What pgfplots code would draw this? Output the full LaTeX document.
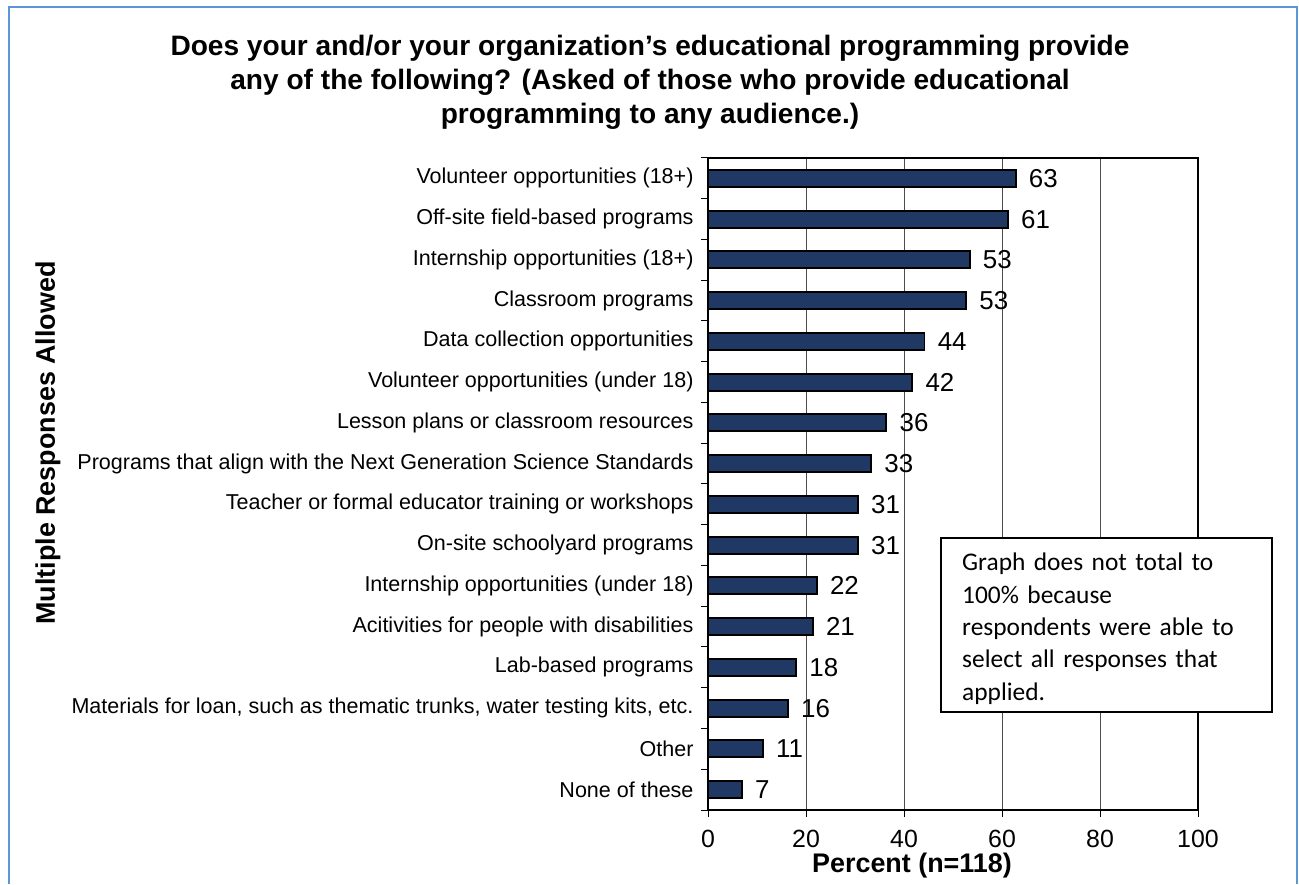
\documentclass[border=0pt]{standalone}
\usepackage{fontspec}
\setmainfont{Liberation Sans}
\newfontfamily\carlito{Carlito}
\usepackage{pgfplots}
\usepackage{pgfplotstable}
\pgfplotsset{compat=1.18}

\definecolor{barblue}{RGB}{31,56,100}
\definecolor{frameblue}{RGB}{91,150,213}

% values, bottom row first
\pgfplotstableread{
pos val lab
0 6.9 7
1 11.2 11
2 16.3 16
3 18.0 18
4 21.4 21
5 22.2 22
6 30.6 31
7 30.6 31
8 33.3 33
9 36.4 36
10 41.7 42
11 44.2 44
12 52.7 53
13 53.4 53
14 61.2 61
15 62.8 63
}\datatable

\begin{document}
\begin{tikzpicture}[x=1bp,y=1bp]
\path[use as bounding box] (0,0) rectangle (1299,884);
\draw[frameblue, line width=2.5bp] (9,0) -- (9,877) -- (1297,877) -- (1297,0);

\node[align=center, font=\bfseries\fontsize{28.2}{34}\selectfont] at (650,802)
  {Does your and/or your organization’s educational programming provide\\
   any of the following? (Asked of those who provide educational\\
   programming to any audience.)};

\begin{axis}[
  at={(708bp,74bp)}, anchor=south west,
  scale only axis, width=490bp, height=652bp,
  xbar, bar width=17bp,
  xmin=0, xmax=100, ymin=-0.5, ymax=15.5,
  xtick={0,20,...,100},
  ytick={0,...,15},
  yticklabels={None of these, Other,
    {Materials for loan, such as thematic trunks, water testing kits, etc.},
    Lab-based programs, Acitivities for people with disabilities,
    Internship opportunities (under 18), On-site schoolyard programs,
    Teacher or formal educator training or workshops,
    Programs that align with the Next Generation Science Standards,
    Lesson plans or classroom resources, Volunteer opportunities (under 18),
    Data collection opportunities, Classroom programs,
    Internship opportunities (18+), Off-site field-based programs,
    Volunteer opportunities (18+)},
  major tick length=0bp,
  minor tick length=7bp,
  minor xtick={0,20,...,100},
  minor ytick={-0.5,0.5,...,15.5},
  tick align=outside, tick pos=left,
  tick style={black, line width=1bp},
  xmajorgrids,
  major grid style={black!70, line width=1bp},
  axis line style={black, line width=1.8bp},
  /pgf/number format/assume math mode=true,
  yticklabel style={font=\fontsize{21.6}{26}\selectfont, xshift=-11bp},
  xticklabel style={font=\fontsize{25}{30}\selectfont, yshift=-17bp},
  nodes near coords,
  point meta=explicit symbolic,
  nodes near coords style={anchor=west, xshift=9bp, text=black,
    font=\fontsize{26}{30}\selectfont},
]
\addplot[fill=barblue, draw=black, line width=1.8bp]
  table[x=val, y=pos, meta=lab] {\datatable};
\end{axis}

\node[rotate=90, font=\bfseries\fontsize{27}{30}\selectfont] at (48,441)
  {Multiple Responses Allowed};
\node[font=\bfseries\fontsize{27}{32}\selectfont] at (912,18) {Percent (n=118)};

\draw[black, line width=1.3bp, fill=white] (941,172) rectangle (1272,346);
\node[anchor=north west, align=left, text width=305bp, inner sep=0pt,
  font=\carlito\fontsize{25.5}{32.5}\selectfont] at (962,331)
  {Graph does not total to\\ 100\% because\\ respondents were able to\\
   select all responses that\\ applied.};
\end{tikzpicture}
\end{document}
